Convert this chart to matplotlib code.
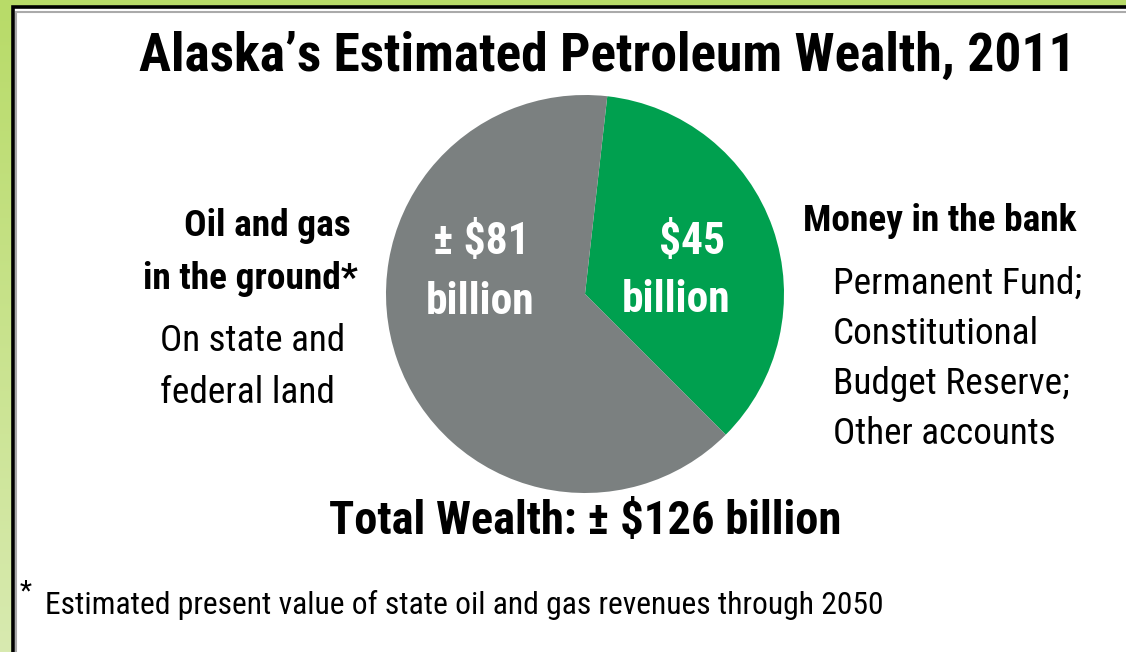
import numpy as np
import matplotlib
matplotlib.use('Agg')
import matplotlib.pyplot as plt
from matplotlib.patches import Rectangle

plt.rcParams['font.family'] = ['Roboto Condensed', 'DejaVu Sans Condensed', 'Liberation Sans Narrow',
                               'Roboto', 'DejaVu Sans']

# data
labels = ['Money in the bank', 'Oil and gas in the ground']
values = [45, 81]
value_labels = [['$45', 'billion'], ['\u00b1 $81', 'billion']]
colors = ['#00a04f', '#7b8080']

title = 'Alaska\u2019s Estimated Petroleum Wealth, 2011'
left_head = ['Oil and gas', 'in the ground*']
left_sub = ['On state and', 'federal land']
right_head = 'Money in the bank'
right_sub = ['Permanent Fund;', 'Constitutional', 'Budget Reserve;', 'Other accounts']
total_text = 'Total Wealth: \u00b1 $126 billion'
footnote = 'Estimated present value of state oil and gas revenues through 2050'

W, H = 1126, 652
fig = plt.figure(figsize=(W / 100, H / 100), dpi=100)
renderer = fig.canvas.get_renderer()

# light green background, slightly paler towards the bottom
bg = fig.add_axes([0, 0, 1, 1])
grad = np.linspace(0, 1, 256).reshape(-1, 1)
top = np.array(matplotlib.colors.to_rgb('#b8db68'))
bot = np.array(matplotlib.colors.to_rgb('#d8eab0'))
img = top + (bot - top) * grad[..., None]
bg.imshow(img, aspect='auto', extent=[0, W, 0, H])
bg.set_axis_off()

ax = fig.add_axes([0, 0, 1, 1])
ax.set_axis_off()

# white panel with black border and a little grey shadow
ax.add_patch(Rectangle((14, -10), W, H - 8 + 10, facecolor='white', edgecolor='none', zorder=1))
ax.add_patch(Rectangle((16, -10), W, H - 10 + 8, facecolor='none', edgecolor='#aaaaaa', lw=1.5, zorder=1.5))
ax.add_patch(Rectangle((12.5, -10), W + 10, H - 6.5 + 10, facecolor='none', edgecolor='black', lw=2.6, zorder=2))

cx, cy, r = 585, H - 294, 199
wedges, _ = ax.pie(values, colors=colors, startangle=-45, center=(cx, cy), radius=r,
                   wedgeprops=dict(linewidth=0))
for w in wedges:
    w.set_zorder(3)

ax.set_xlim(0, W)
ax.set_ylim(0, H)


def fit_text(x, y, s, width, size, ha='left', **kw):
    # scale the font so the text takes about the same width as in the original
    t = ax.text(x, H - y, s, ha=ha, va='center', fontsize=size, zorder=4, **kw)
    wpx = t.get_window_extent(renderer).width
    k = min(width / wpx, 1.12)
    t.set_fontsize(size * k)
    return t


fit_text(607, 56, title, 935, 40, ha='center', fontweight='bold')

# labels inside the wedges
fit_text(692, 242, value_labels[0][0], 68, 28, ha='center', fontweight='bold', color='white')
fit_text(676, 300, value_labels[0][1], 118, 28, ha='center', fontweight='bold', color='white')
fit_text(481, 242, value_labels[1][0], 117, 28, ha='center', fontweight='bold', color='white')
fit_text(480, 302, value_labels[1][1], 119, 28, ha='center', fontweight='bold', color='white')

# left side labels
fit_text(351, 226, left_head[0], 188, 24, ha='right', fontweight='bold')
fit_text(358, 279, left_head[1], 250, 24, ha='right', fontweight='bold')
fit_text(160, 341, left_sub[0], 186, 24)
fit_text(160, 393, left_sub[1], 176, 24)

# right side labels
fit_text(803, 221, right_head, 314, 24, fontweight='bold')
sub_w = [262, 210, 245, 224]
for i, s in enumerate(right_sub):
    fit_text(833, 284 + i * 50, s, sub_w[i], 24)

fit_text(585, 521, total_text, 514, 32, ha='center', fontweight='bold')

ax.text(20, H - 592, '*', ha='left', va='center', fontsize=20, zorder=4)
fit_text(45, 605, footnote, 840, 22)

fig.savefig('out.png', dpi=100)
